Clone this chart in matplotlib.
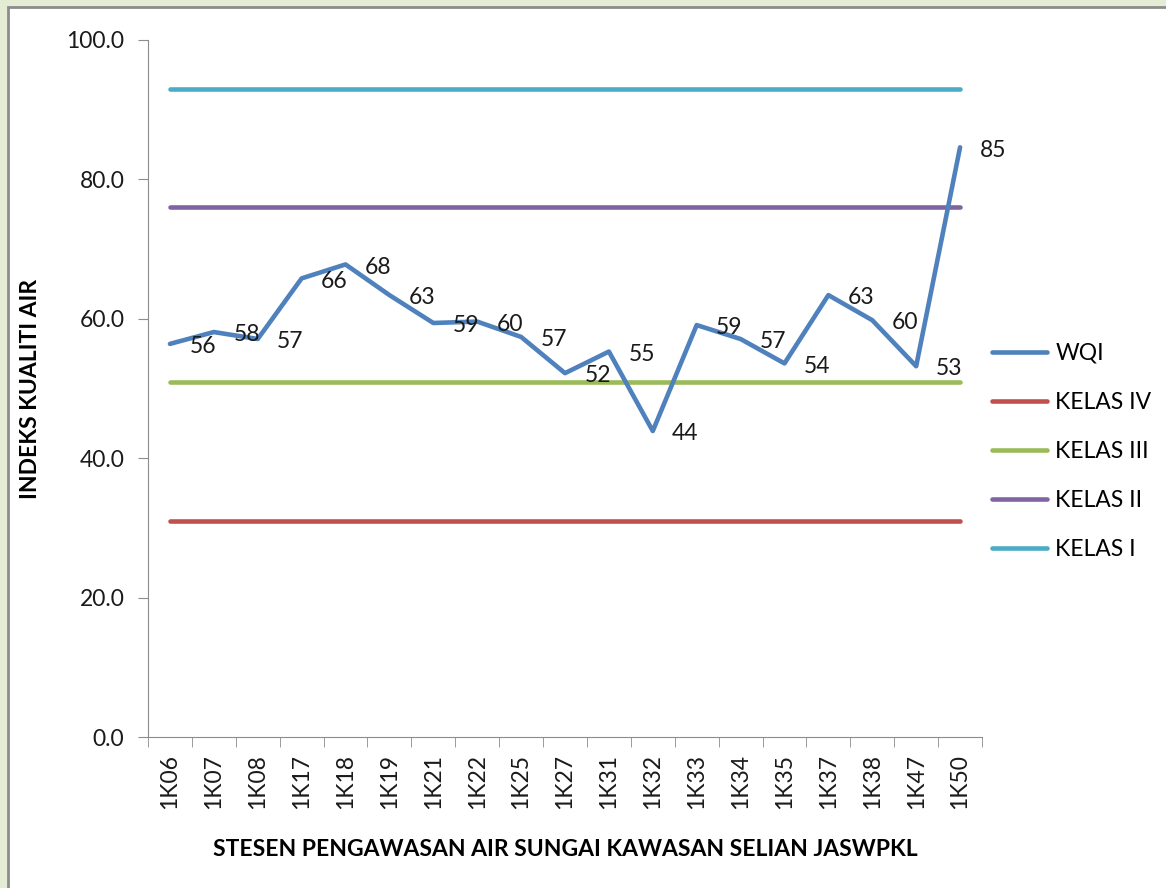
import matplotlib
matplotlib.use("Agg")
import matplotlib.pyplot as plt
from matplotlib.patches import Rectangle

plt.rcParams['font.family'] = ['Lato', 'DejaVu Sans']

stations = ['1K06', '1K07', '1K08', '1K17', '1K18', '1K19', '1K21', '1K22', '1K25', '1K27',
            '1K31', '1K32', '1K33', '1K34', '1K35', '1K37', '1K38', '1K47', '1K50']
wqi = [56.4, 58.1, 57.1, 65.8, 67.8, 63.4, 59.4, 59.6, 57.4, 52.2,
       55.3, 43.9, 59.1, 57.1, 53.6, 63.4, 59.8, 53.2, 84.6]
wqi_labels = [56, 58, 57, 66, 68, 63, 59, 60, 57, 52, 55, 44, 59, 57, 54, 63, 60, 53, 85]

kelas_names = ['KELAS IV', 'KELAS III', 'KELAS II', 'KELAS I']
kelas_values = [31, 51, 76, 93]
kelas_colors = ['#C0504D', '#9BBB59', '#8064A2', '#4BACC6']
wqi_color = '#4F81BD'

fs = 16.5

fig = plt.figure(figsize=(11.66, 8.88), dpi=100, facecolor='#E4EDD3')
# white chart area with grey frame
fig.patches.append(Rectangle((8 / 1166, -0.01), 1.1, 1 - 7 / 888 + 0.01, transform=fig.transFigure,
                             facecolor='white', edgecolor='#8C8C8C', linewidth=2, zorder=-5))

ax = fig.add_axes([148 / 1166, 1 - 737 / 888, (982 - 148) / 1166, (737 - 40) / 888])
ax.set_zorder(2)
ax.set_facecolor('none')

x = list(range(len(stations)))
ax.plot(x, wqi, color=wqi_color, lw=3.3, solid_capstyle='round', solid_joinstyle='round', label='WQI', zorder=3)
for name, val, col in zip(kelas_names, kelas_values, kelas_colors):
    ax.plot([x[0], x[-1]], [val, val], color=col, lw=3.3, solid_capstyle='round', label=name, zorder=2)

for xi, yi, lab in zip(x, wqi, wqi_labels):
    ax.annotate(str(lab), (xi, yi), xytext=(14, -2), textcoords='offset points',
                ha='left', va='center', fontsize=fs, color='#1a1a1a', zorder=4)

ax.set_xlim(-0.5, len(stations) - 0.5)
ax.set_ylim(0, 100)
ax.set_yticks([0, 20, 40, 60, 80, 100])
ax.set_yticklabels([f'{v:.1f}' for v in [0, 20, 40, 60, 80, 100]], fontsize=fs, color='#1a1a1a')
ax.set_xticks(x)
ax.set_xticklabels(stations, rotation=90, fontsize=fs, color='#1a1a1a')
ax.set_xticks([i - 0.5 for i in range(len(stations) + 1)], minor=True)
ax.tick_params(axis='x', which='major', length=0, pad=12)
ax.tick_params(axis='x', which='minor', length=7, color='#8C8C8C')
ax.tick_params(axis='y', length=7, color='#8C8C8C', pad=10)

for s in ['top', 'right']:
    ax.spines[s].set_visible(False)
for s in ['left', 'bottom']:
    ax.spines[s].set_color('#8C8C8C')

ax.set_xlabel('STESEN PENGAWASAN AIR SUNGAI KAWASAN SELIAN JASWPKL', fontsize=fs,
              fontweight='bold', labelpad=22)
ax.set_ylabel('INDEKS KUALITI AIR', fontsize=fs, fontweight='bold', labelpad=18)

handles, labels = ax.get_legend_handles_labels()
ax.legend(handles, labels, loc='center left', bbox_to_anchor=(1.0, 0.41), frameon=False,
          fontsize=fs, handlelength=2.4, labelspacing=1.22, handletextpad=0.35, borderaxespad=0.05)

fig.savefig('out.png', dpi=100, facecolor=fig.get_facecolor())
